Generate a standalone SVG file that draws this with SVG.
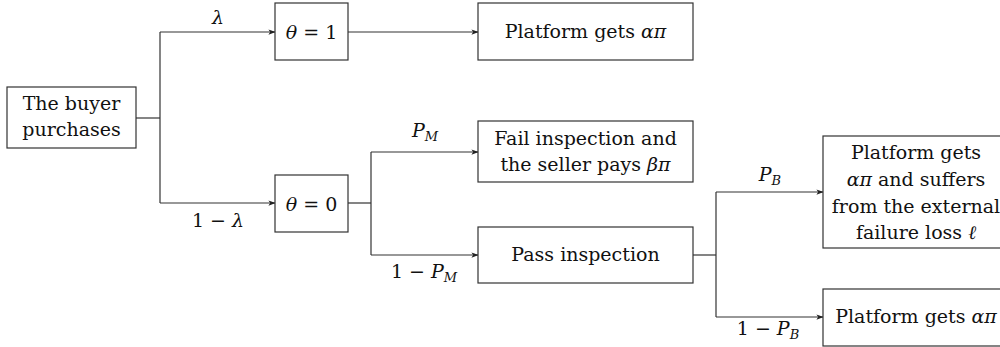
<svg xmlns="http://www.w3.org/2000/svg" width="1000" height="347" viewBox="0 0 1000 347">
<style>
.box{fill:#fff;stroke:#333;stroke-width:1.2}
.t{font-family:'DejaVu Serif',serif;font-size:19px;fill:#111;text-anchor:middle}
.m{font-style:italic}
.s{font-size:13px;font-style:italic}
.c{fill:none;stroke:#333;stroke-width:1.2}
</style>
<defs>
<marker id="ah" viewBox="0 0 8 8" refX="7.5" refY="4" markerWidth="7" markerHeight="7" markerUnits="userSpaceOnUse" orient="auto">
<path d="M0,1 L8,4 L0,7 L2,4 Z" fill="#222"/>
</marker>
</defs>
<g id="connectors">
<path class="c" d="M136,118 H160"/>
<path class="c" d="M160,32 V203"/>
<path class="c" d="M160,32 H275" marker-end="url(#ah)"/>
<path class="c" d="M160,203 H275" marker-end="url(#ah)"/>
<path class="c" d="M348,32 H478" marker-end="url(#ah)"/>
<path class="c" d="M348,203 H371"/>
<path class="c" d="M371,152 V255"/>
<path class="c" d="M371,152 H478" marker-end="url(#ah)"/>
<path class="c" d="M371,255 H478" marker-end="url(#ah)"/>
<path class="c" d="M693,255 H716"/>
<path class="c" d="M716,192 V317"/>
<path class="c" d="M716,192 H823" marker-end="url(#ah)"/>
<path class="c" d="M716,317 H823" marker-end="url(#ah)"/>
<text class="t m" x="218" y="24">λ</text>
<text class="t" x="218" y="227">1 − <tspan class="m">λ</tspan></text>
<text class="t" x="425" y="137"><tspan class="m">P</tspan><tspan class="s" dy="4">M</tspan></text>
<text class="t" x="424" y="278">1 − <tspan class="m">P</tspan><tspan class="s" dy="4">M</tspan></text>
<text class="t" x="770" y="181"><tspan class="m">P</tspan><tspan class="s" dy="4">B</tspan></text>
<text class="t" x="768" y="335">1 − <tspan class="m">P</tspan><tspan class="s" dy="4">B</tspan></text>
</g>
<g id="buyer">
<rect class="box" x="7" y="87" width="129" height="61"/>
<text class="t" x="71.5" y="110">The buyer</text>
<text class="t" x="71.5" y="136">purchases</text>
</g>
<g id="theta1">
<rect class="box" x="275" y="3" width="73" height="57"/>
<text class="t" x="311.5" y="39"><tspan class="m">θ</tspan> = 1</text>
</g>
<g id="theta0">
<rect class="box" x="275" y="175" width="73" height="57"/>
<text class="t" x="311.5" y="211"><tspan class="m">θ</tspan> = 0</text>
</g>
<g id="platform1">
<rect class="box" x="478" y="3" width="215" height="57"/>
<text class="t" x="585.5" y="38">Platform gets <tspan class="m">απ</tspan></text>
</g>
<g id="fail">
<rect class="box" x="478" y="121" width="215" height="61"/>
<text class="t" x="585.5" y="145">Fail inspection and</text>
<text class="t" x="585.5" y="171">the seller pays <tspan class="m">βπ</tspan></text>
</g>
<g id="pass">
<rect class="box" x="478" y="227" width="215" height="56"/>
<text class="t" x="585.5" y="261">Pass inspection</text>
</g>
<g id="platform2">
<rect class="box" x="823" y="136" width="187" height="112"/>
<text class="t" x="916" y="159">Platform gets</text>
<text class="t" x="916" y="186"><tspan class="m">απ</tspan> and suffers</text>
<text class="t" x="916" y="213">from the external</text>
<text class="t" x="916" y="239">failure loss <tspan class="m">ℓ</tspan></text>
</g>
<g id="platform3">
<rect class="box" x="823" y="289" width="187" height="57"/>
<text class="t" x="916" y="323">Platform gets <tspan class="m">απ</tspan></text>
</g>
</svg>
